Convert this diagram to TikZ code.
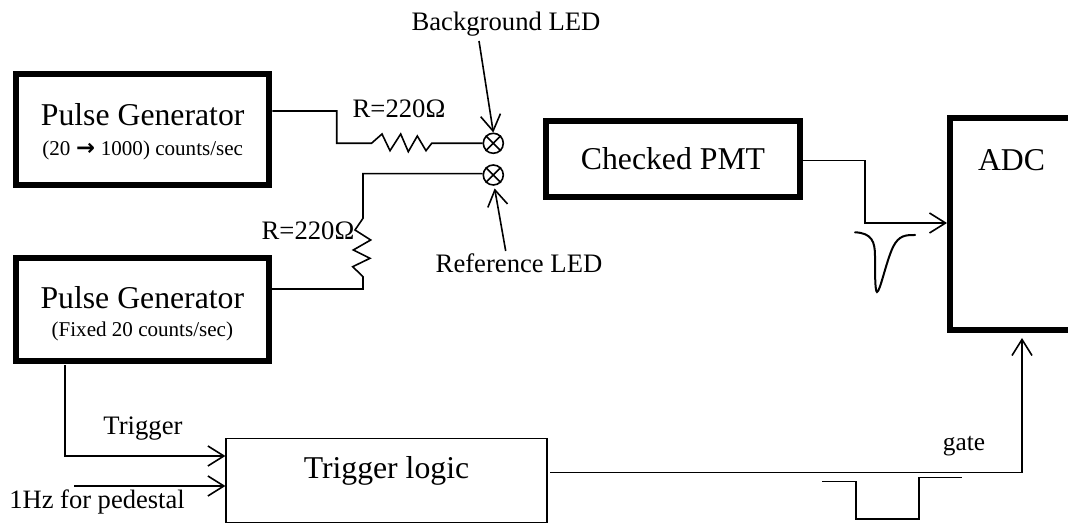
\documentclass[tikz,border=0pt]{standalone}
\usepackage{fontspec}
\setmainfont{Liberation Serif}
\newfontfamily\arrowfont{DejaVu Sans}
\usetikzlibrary{arrows.meta}
\newcommand{\bigsz}{\fontsize{23.8pt}{27pt}\selectfont}
\newcommand{\midsz}{\fontsize{20pt}{24pt}\selectfont}
\newcommand{\smlsz}{\fontsize{15.8pt}{19pt}\selectfont}
\tikzset{
  thickbox/.style={draw,line width=4.5pt,inner sep=0pt,align=center,font=\bigsz,anchor=north west},
  thinbox/.style={draw,line width=1.2pt,inner sep=0pt,align=center,font=\bigsz,anchor=north west},
  wire/.style={line width=1.2pt,line join=miter},
  arrowwire/.style={wire,-{Straight Barb[length=12pt,width=15pt,line width=1.2pt]}},
  lbl/.style={inner sep=0pt,font=\midsz},
  led/.style={draw,circle,line width=1.2pt,minimum size=15pt,inner sep=0pt}
}
\begin{document}
\begin{tikzpicture}[x=0.75pt,y=-0.75pt]
\useasboundingbox (0,0) rectangle (1068,523);
% boxes
\node[thickbox,minimum width=190pt,minimum height=83.25pt] (pg1) at (13,71) {\rule{0pt}{20pt}Pulse Generator\\[-5pt]\smlsz (20 \makebox[15pt]{\fontsize{17pt}{19pt}\selectfont\arrowfont\bfseries →} 1000) counts/sec};
\node[thickbox,minimum width=189.5pt,minimum height=77.25pt] (pg2) at (13,255) {\rule{0pt}{23pt}Pulse Generator\\[-5.5pt]\smlsz (Fixed 20 counts/sec)};
\node[thickbox,minimum width=190.5pt,minimum height=57pt] (pmt) at (543,118) {Checked PMT};
\node[thickbox,minimum width=93.75pt,minimum height=159pt] (adc) at (947,115.5) {};
\node[inner sep=0pt,font=\bigsz] (adclbl) at (1011.5,160) {ADC};
\node[thinbox,minimum width=240.4pt,minimum height=63pt,text depth=19pt] (trig) at (225.4,437.7) {Trigger logic};
% LEDs
\node[led] (led1) at (493.3,143.3) {};
\node[led] (led2) at (493.3,175) {};
\draw[wire] (led1.north west) -- (led1.south east) (led1.north east) -- (led1.south west);
\draw[wire] (led2.north west) -- (led2.south east) (led2.north east) -- (led2.south west);
% labels
\node[lbl] (bg) at (506,24) {Background LED};
\node[lbl] (ref) at (519,263) {Reference LED};
\node[lbl] (r1) at (399,109) {R=220Ω};
\node[lbl] (r2) at (308,231) {R=220Ω};
\node[lbl] (tl) at (143,429) {Trigger};
\node[lbl,font=\fontsize{19.9pt}{24pt}\selectfont] (hz) at (97,502) {1Hz for pedestal};
\node[lbl,font=\fontsize{19pt}{22pt}\selectfont] (gt) at (964,446) {gate};
% free ends
\coordinate (bgs) at (479,41);
\coordinate (refs) at (505.7,251);
\coordinate (hzs) at (74,486);
% resistor wires
\draw[wire] (pg1.east |- 0,111) -- (336.7,111) -- (336.7,143.3) -- (371.5,143.3)
  -- (382,134) -- (390,150.7) -- (400.7,134) -- (408.3,151.7) -- (417.3,136) -- (426,150.7) -- (431.7,143.3) -- (led1.west);
\draw[wire] (pg2.east |- 0,289) -- (363,289) -- (363,276.7) -- (352.7,266.7) -- (370,258.3) -- (353.3,250) -- (370.7,240) -- (355,230) -- (363,218.3) -- (363,173.7) -- (led2.west |- 0,173.7);
% LED arrows
\draw[arrowwire] (bgs) -- (led1.north);
\draw[arrowwire] (refs) -- ([xshift=1pt,yshift=-2pt]led2.south);
% PMT to ADC
\draw[arrowwire] (pmt.east |- 0,160.7) -- (865,160.7) -- (865,223) -- (adc.west |- 0,223);
% trigger inputs
\draw[arrowwire] (65,365) -- (65,456) -- (trig.west |- 0,456);
\draw[arrowwire] (hzs) -- (trig.west |- hzs);
% gate
\draw[arrowwire] ([xshift=2pt]trig.east |- 0,472.7) -- (1022,472.7) -- (1022,338);
% pulses
\draw[wire] (822,481.7) -- (855.7,481.7) -- (855.7,519.3) -- (919,519.3) -- (919,477.7) -- (962,477.7);
\draw[wire,line width=1.5pt,line cap=round] (855,232.3) .. controls (872,233) and (875,242) .. (875,256) .. controls (875,272) and (875,292) .. (877,292) .. controls (880,292) and (886,262) .. (893,247) .. controls (899,235) and (906,235) .. (915,235);
\end{tikzpicture}
\end{document}
